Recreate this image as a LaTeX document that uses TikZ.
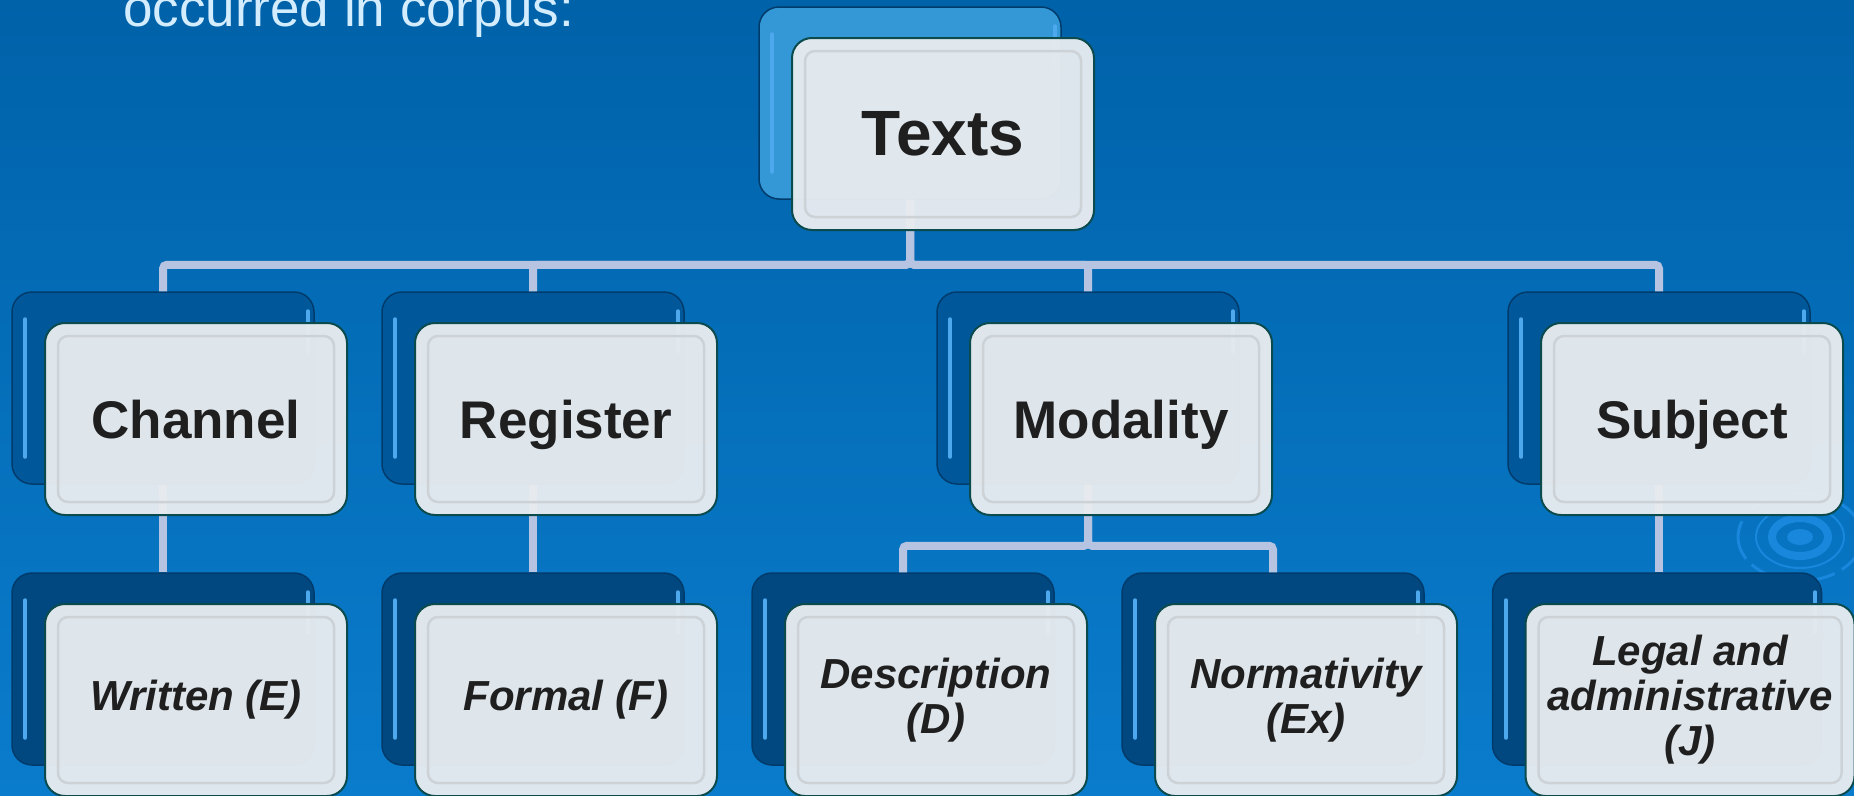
\documentclass[tikz,border=0pt]{standalone}
\usepackage{xcolor}
\usepackage{fontspec}
\setmainfont{Liberation Sans}
\usepackage{tikz}
\usetikzlibrary{shapes.geometric, arrows}
\definecolor{slidetop}{HTML}{0062A9}
\definecolor{slidebottom}{HTML}{0A7CCC}
\definecolor{backedge}{HTML}{003B6B}
\definecolor{toplevel}{HTML}{3498D6}
\definecolor{midlevel}{HTML}{00589A}
\definecolor{lowlevel}{HTML}{00487F}
\definecolor{frontfill}{HTML}{E8ECF0}
\definecolor{frontedge}{HTML}{0B4B4E}
\definecolor{linkcol}{HTML}{B6C4E2}
\definecolor{bevelcol}{HTML}{CDD2D7}
\definecolor{shinecol}{HTML}{4DA8EE}
\definecolor{ringcol}{HTML}{1887DC}
\definecolor{introcol}{HTML}{D3EDFF}
\definecolor{textcol}{HTML}{1F1F1F}
\tikzstyle{backbox} = [rectangle, rounded corners=20pt, minimum width=302pt, minimum height=192pt, draw=backedge, line width=1.5pt]
\tikzstyle{backtop} = [backbox, fill=toplevel]
\tikzstyle{backmid} = [backbox, fill=midlevel]
\tikzstyle{backlow} = [backbox, fill=lowlevel]
\tikzstyle{front} = [rectangle, rounded corners=20pt, minimum width=302pt, minimum height=192pt, align=center, draw=frontedge, line width=2pt, fill=frontfill, fill opacity=0.96, text opacity=1, text=textcol]
\tikzstyle{toptext} = [front, font=\fontsize{64}{70}\selectfont\bfseries]
\tikzstyle{midtext} = [front, text height=49pt, text depth=11pt, font=\fontsize{53}{58}\selectfont\bfseries]
\tikzstyle{lowtext} = [front, font=\fontsize{42}{45}\selectfont\bfseries\itshape]
\tikzstyle{link} = [linkcol, line width=8pt, rounded corners=4pt]
\tikzstyle{bevel} = [draw=bevelcol, line width=2.5pt, rounded corners=10pt]
\tikzstyle{shine} = [shinecol, line width=4pt, line cap=round]

\begin{document}
\begin{tikzpicture}[x=1pt, y=-1pt]
				\useasboundingbox (0,0) rectangle (1854,795);
				\shade [top color=slidetop, bottom color=slidebottom] (0,0) rectangle (1854,795);

				\fill [ringcol] (1800,537) ellipse [x radius=13, y radius=8];
				\draw [ringcol, line width=8pt] (1800,537) ellipse [x radius=28, y radius=19];
				\draw [ringcol, line width=2pt] (1800,537) ellipse [x radius=44, y radius=31];
				\draw [ringcol, line width=3pt, dash pattern=on 40pt off 8pt] (1800,537) ellipse [x radius=62, y radius=44];

				\node (intro) [anchor=base west, inner sep=0pt, text=introcol, font=\fontsize{53}{60}\selectfont] at (123,27) {occurred in corpus:};

				\node (textsB) [backtop] at (910,103) {};
				\node (chanB) [backmid] at (163,388) {};
				\node (regB) [backmid] at (533,388) {};
				\node (modB) [backmid] at (1088,388) {};
				\node (subjB) [backmid] at (1659,388) {};
				\node (writB) [backlow] at (163,669) {};
				\node (formB) [backlow] at (533,669) {};
				\node (descB) [backlow] at (903,669) {};
				\node (normB) [backlow] at (1273,669) {};
				\node (legB) [backlow, minimum width=329pt] at (1657,669) {};

				\foreach \b in {textsB, chanB, regB, modB, subjB, writB, formB, descB, normB, legB} {
					\draw [shine] ([shift={(14,28)}]\b.north west) -- ([shift={(14,-28)}]\b.south west);
					\draw [shine] ([shift={(-7,20)}]\b.north east) -- ([shift={(-7,60)}]\b.north east);
				}

				\draw [link] (textsB.south) -- ++(0,65) -| (chanB.north);
				\draw [link] (textsB.south) -- ++(0,65) -| (regB.north);
				\draw [link] (textsB.south) -- ++(0,65) -| (modB.north);
				\draw [link] (textsB.south) -- ++(0,65) -| (subjB.north);
				\draw [link] (chanB.south) -- (writB.north);
				\draw [link] (regB.south) -- (formB.north);
				\draw [link] (modB.south) -- ++(0,61) -| (descB.north);
				\draw [link] (modB.south) -- ++(0,61) -| (normB.north);
				\draw [link] (subjB.south) -- (subjB.south |- legB.north);

				\node (texts) [toptext] at ([shift={(33,31)}]textsB) {Texts};
				\node (channel) [midtext] at ([shift={(33,31)}]chanB) {Channel};
				\node (register) [midtext] at ([shift={(33,31)}]regB) {Register};
				\node (modality) [midtext] at ([shift={(33,31)}]modB) {Modality};
				\node (subject) [midtext] at ([shift={(33,31)}]subjB) {Subject};
				\node (written) [lowtext] at ([shift={(33,31)}]writB) {Written (E)};
				\node (formal) [lowtext] at ([shift={(33,31)}]formB) {Formal (F)};
				\node (description) [lowtext] at ([shift={(33,31)}]descB) {Description\\(D)};
				\node (normativity) [lowtext] at ([shift={(33,31)}]normB) {Normativity\\(Ex)};
				\node (legal) [lowtext, minimum width=329pt] at ([shift={(33,31)}]legB) {Legal and\\administrative\\(J)};

				\foreach \f in {texts, channel, register, modality, subject, written, formal, description, normativity, legal}
					\draw [bevel] ([shift={(14,14)}]\f.north west) rectangle ([shift={(-14,-14)}]\f.south east);

			\end{tikzpicture}
\end{document}
